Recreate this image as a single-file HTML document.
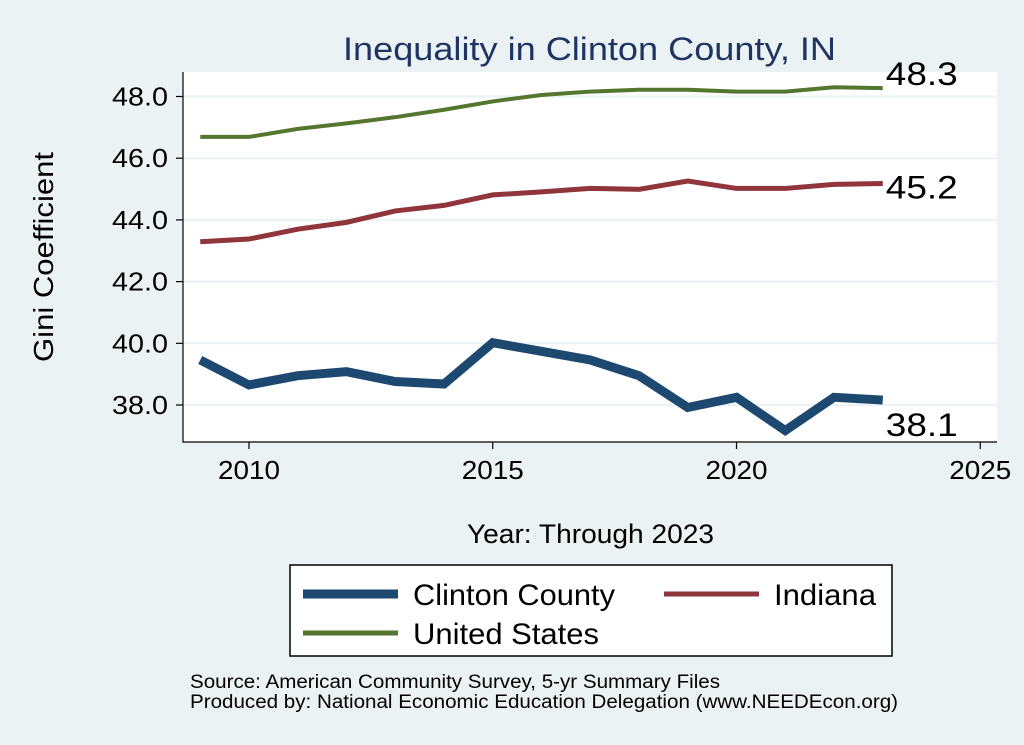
<!DOCTYPE html>
<html><head><meta charset="utf-8"><style>
body{margin:0;background:#eaf2f3;}
svg{display:block;font-family:"Liberation Sans",Arial,sans-serif;}
</style></head><body>
<svg id="chart" width="1024" height="745">
<rect x="0" y="0" width="1024" height="745" fill="#eaf2f3"/>
<rect x="183" y="72" width="814" height="370" fill="#fff"/>
<text x="343" y="60" textLength="493" lengthAdjust="spacingAndGlyphs" font-size="32" fill="#1f3463">Inequality in Clinton County, IN</text>
<g id="grid"></g><g id="axes"></g><g id="series"></g>
<text transform="translate(53,257) rotate(-90)" text-anchor="middle" textLength="210" lengthAdjust="spacingAndGlyphs" font-size="28" fill="#000">Gini Coefficient</text>
<text x="467" y="543" textLength="247" lengthAdjust="spacingAndGlyphs" font-size="27" fill="#000">Year: Through 2023</text>
<g>
<rect x="290" y="565" width="602" height="91" fill="#fff" stroke="#000" stroke-width="1.5"/>
<line x1="303" y1="594" x2="398" y2="594" stroke="#1d4970" stroke-width="9"/>
<text x="413" y="605" textLength="202" lengthAdjust="spacingAndGlyphs" font-size="30">Clinton County</text>
<line x1="664" y1="594" x2="759" y2="594" stroke="#90353b" stroke-width="5"/>
<text x="774" y="605" textLength="102" lengthAdjust="spacingAndGlyphs" font-size="30">Indiana</text>
<line x1="303" y1="633" x2="398" y2="633" stroke="#55762f" stroke-width="5"/>
<text x="413" y="644" textLength="186" lengthAdjust="spacingAndGlyphs" font-size="30">United States</text>
</g>
<text x="190" y="688" textLength="530" lengthAdjust="spacingAndGlyphs" font-size="19">Source: American Community Survey, 5-yr Summary Files</text>
<text x="190" y="708" textLength="708" lengthAdjust="spacingAndGlyphs" font-size="19">Produced by: National Economic Education Delegation (www.NEEDEcon.org)</text>
</svg>
<script>
const years=[2009,2010,2011,2012,2013,2014,2015,2016,2017,2018,2019,2020,2021,2022,2023];
const clinton=[39.46,38.65,38.95,39.08,38.76,38.68,40.02,39.74,39.46,38.95,37.92,38.25,37.17,38.25,38.16];
const indiana=[43.29,43.38,43.7,43.92,44.29,44.47,44.81,44.91,45.02,44.99,45.26,45.02,45.02,45.15,45.18];
const us=[46.69,46.69,46.95,47.13,47.33,47.57,47.84,48.05,48.16,48.22,48.22,48.16,48.16,48.3,48.27];
const yTicks=[38,40,42,44,46,48];
const xTicks=[2010,2015,2020,2025];
const endLabels=["38.1","45.2","48.3"];
const NS="http://www.w3.org/2000/svg";
const xs=v=>249+(v-2010)*48.75;
const ys=v=>405-(v-38)*30.85;
function mk(t,a,p){const e=document.createElementNS(NS,t);for(const k in a)e.setAttribute(k,a[k]);p.appendChild(e);return e;}
const grid=document.getElementById('grid'),axes=document.getElementById('axes'),ser=document.getElementById('series');
yTicks.forEach(v=>{
 const g=mk('line',{x1:183,x2:997,y1:ys(v),y2:ys(v),stroke:'#eaf2f3','stroke-width':2},grid);
 
 
 const t=mk('line',{x1:176,x2:183,y1:ys(v),y2:ys(v),stroke:'#000','stroke-width':1.2},axes);
 
 
 const l=mk('text',{x:168,y:ys(v)+9,'text-anchor':'end','font-size':26,textLength:56,lengthAdjust:'spacingAndGlyphs'},axes);
 l.textContent=v.toFixed(1);
 
 
});
xTicks.forEach(v=>{
 const t=mk('line',{x1:xs(v),x2:xs(v),y1:442,y2:449,stroke:'#000','stroke-width':1.2},axes);
 
 
 const l=mk('text',{x:xs(v)-31,y:479,'font-size':26,textLength:62,lengthAdjust:'spacingAndGlyphs'},axes);
 l.textContent=v;
 
 
});
const ax=mk('path',{d:'M183 72V442H997',fill:'none',stroke:'#000','stroke-width':1.2},axes);


const series=[[clinton,'#1d4970',9,'clinton-line'],[indiana,'#90353b',5,'indiana-line'],[us,'#55762f',4,'us-line']];
series.forEach((s,i)=>{
 const p=mk('polyline',{points:years.map((y,j)=>xs(y)+','+ys(s[0][j])).join(' '),fill:'none',stroke:s[1],'stroke-width':s[2],'stroke-linejoin':'miter'},ser);
 
 
 const last=s[0][s[0].length-1],lx=xs(years[years.length-1]);
 const t=mk('text',{x:lx+3,y:i==0?ys(last)+36:(i==1?ys(last)+15:ys(last)-3),'font-size':32,textLength:72,lengthAdjust:'spacingAndGlyphs'},ser);
 t.textContent=endLabels[i];
 
 
});
</script>
</body></html>
